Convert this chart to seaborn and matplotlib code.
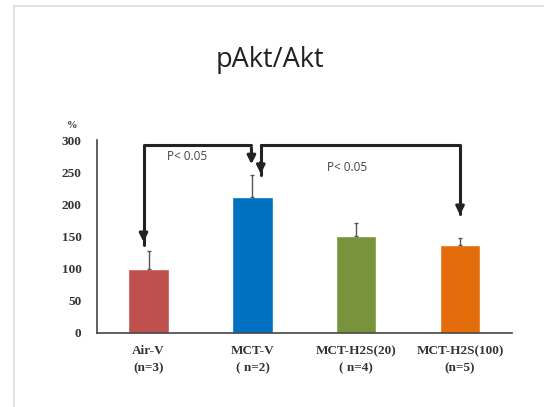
import matplotlib
matplotlib.use("Agg")
import matplotlib.pyplot as plt
from matplotlib.lines import Line2D
import seaborn as sns
import numpy as np
import pandas as pd

# data
groups = ["Air-V", "MCT-V", "MCT-H2S(20)", "MCT-H2S(100)"]
tick_labels = ["Air-V\n(n=3)", "MCT-V\n( n=2)", "MCT-H2S(20)\n( n=4)", "MCT-H2S(100)\n(n=5)"]
values = [100, 212, 151, 136]
errors = [27, 34, 20, 11]
bar_colors = ["#C0504D", "#0070C0", "#77933C", "#E46C0A"]

df = pd.DataFrame({"group": groups, "value": values})

sns.set_style("white")
fig = plt.figure(figsize=(5.44, 4.07), dpi=100)
ax = fig.add_axes([0.178, 0.182, 0.763, 0.474])

sns.barplot(data=df, x="group", y="value", hue="group", palette=bar_colors,
            width=0.39, legend=False, saturation=1, ax=ax)

# upper error bars only
xs = np.arange(len(groups))
ax.errorbar(xs, values, yerr=[np.zeros(len(values)), errors], fmt="none",
            ecolor="#555555", elinewidth=1, capsize=1.5, capthick=1)

ax.set_ylim(0, 300)
ax.set_xlim(-0.5, len(groups) - 0.5)
ax.set_yticks(range(0, 301, 50))
ax.set_yticklabels([str(v) for v in range(0, 301, 50)],
                   family="Liberation Serif", fontweight="bold", fontsize=9.5, color="#333333")
ax.set_xticks(xs)
ax.set_xticklabels(tick_labels, family="Liberation Serif", fontweight="bold",
                   fontsize=9.5, color="#333333", linespacing=1.55)
ax.set_xticks(np.arange(len(groups)) + 0.5, minor=True)
ax.tick_params(axis="x", which="major", length=0, pad=9)
ax.tick_params(axis="x", which="minor", length=3, direction="in", color="#555555")
ax.tick_params(axis="y", length=3, direction="in", color="#555555", pad=11)
ax.set_xlabel("")
ax.set_ylabel("")
for side in ["top", "right"]:
    ax.spines[side].set_visible(False)
for side in ["left", "bottom"]:
    ax.spines[side].set_color("#444444")
    ax.spines[side].set_linewidth(1.2)

ax.text(-0.06, 1.075, "%", transform=ax.transAxes, ha="center", va="center",
        family="Liberation Serif", fontweight="bold", fontsize=7.5, color="#333333")

# significance brackets
lw = 2.2
ax.plot([-0.05, -0.05, 0.99], [137, 292, 292], color="#222222", lw=lw, clip_on=False)
ax.annotate("", xy=(0.99 - 0.0, 258), xytext=(0.99, 292),
            arrowprops=dict(arrowstyle="-|>", color="#222222", lw=lw, mutation_scale=12))
ax.annotate("", xy=(-0.05, 137), xytext=(-0.05, 160),
            arrowprops=dict(arrowstyle="-|>", color="#222222", lw=lw, mutation_scale=12))
ax.plot([1.08, 1.08], [245, 292], color="#222222", lw=lw, clip_on=False)
ax.plot([1.08, 3.0, 3.0], [292, 292, 185], color="#222222", lw=lw, clip_on=False)
ax.annotate("", xy=(1.08, 243), xytext=(1.08, 270),
            arrowprops=dict(arrowstyle="-|>", color="#222222", lw=lw, mutation_scale=12))
ax.annotate("", xy=(3.0, 179), xytext=(3.0, 200),
            arrowprops=dict(arrowstyle="-|>", color="#222222", lw=lw, mutation_scale=12))

ax.text(0.18, 274, "P< 0.05", fontsize=8.5, color="#444444", va="center", family="Open Sans")
ax.text(1.72, 258, "P< 0.05", fontsize=8.5, color="#444444", va="center", family="Open Sans")

fig.text(0.497, 0.853, "pAkt/Akt", ha="center", va="center", fontsize=19.5,
         family="Open Sans", color="#222222")

# light frame of the slide
fig.add_artist(Line2D([0.026, 0.026], [0.0, 0.985], color="#dddddd", lw=1.2))
fig.add_artist(Line2D([0.026, 1.0], [0.985, 0.985], color="#dddddd", lw=1.2))

fig.savefig("out.png", dpi=100)
